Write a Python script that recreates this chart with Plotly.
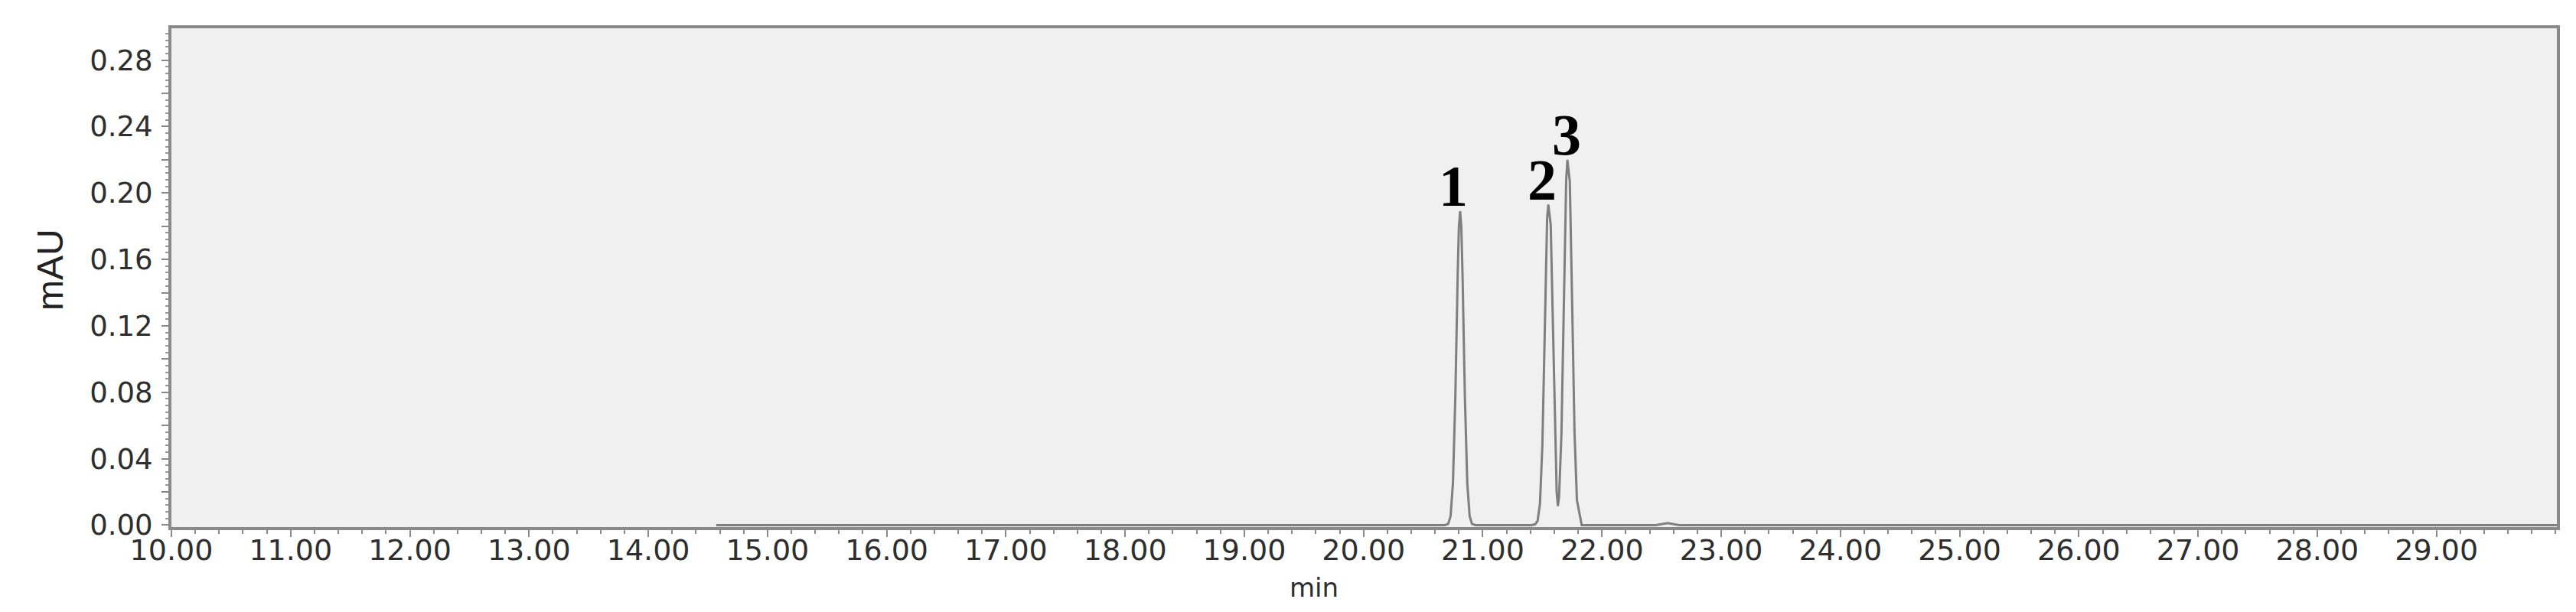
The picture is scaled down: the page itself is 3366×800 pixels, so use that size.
import plotly.graph_objects as go

# Chromatogram trace (time in min, signal in mAU)
time_min = [14.57, 18.00, 20.60, 20.68, 20.71, 20.73, 20.75, 20.77, 20.79, 20.80, 20.81,
            20.82, 20.83, 20.85, 20.87, 20.89, 20.91, 20.94, 21.30, 21.41, 21.44,
            21.46, 21.48, 21.50, 21.52, 21.53, 21.54, 21.55, 21.57, 21.59, 21.61,
            21.62, 21.63, 21.64, 21.66, 21.68, 21.69, 21.70, 21.71, 21.73, 21.75,
            21.77, 21.79, 21.83, 22.45, 22.55, 22.65, 26.00, 30.02]
signal_mau = [0.000, 0.000, 0.000, 0.000, 0.0007, 0.0054, 0.0254, 0.0775, 0.152, 0.180, 0.189,
              0.180, 0.152, 0.0775, 0.0254, 0.0054, 0.0007, 0.000, 0.000, 0.000, 0.0005,
              0.0025, 0.013, 0.048, 0.116, 0.155, 0.185, 0.193, 0.181, 0.116, 0.048,
              0.020, 0.0115, 0.017, 0.055, 0.133, 0.175, 0.208, 0.220, 0.207, 0.133,
              0.055, 0.015, 0.000, 0.000, 0.0012, 0.000, 0.000, 0.000]

peak_labels = ["1", "2", "3"]
peak_times = [20.80, 21.54, 21.71]
peak_heights = [0.189, 0.193, 0.220]

x_tick_vals = [10, 11, 12, 13, 14, 15, 16, 17, 18, 19, 20, 21, 22, 23, 24, 25, 26, 27, 28, 29]
x_tick_text = ["10.00", "11.00", "12.00", "13.00", "14.00", "15.00", "16.00", "17.00", "18.00",
               "19.00", "20.00", "21.00", "22.00", "23.00", "24.00", "25.00", "26.00", "27.00",
               "28.00", "29.00"]
y_tick_vals = [0.00, 0.02, 0.04, 0.06, 0.08, 0.10, 0.12, 0.14, 0.16, 0.18, 0.20, 0.22,
               0.24, 0.26, 0.28]
y_tick_text = ["0.00", "", "0.04", "", "0.08", "", "0.12", "", "0.16", "", "0.20", "",
               "0.24", "", "0.28"]

AX = "#8a8a8a"
TXT = "#2e2e2e"

fig = go.Figure()
fig.add_trace(go.Scatter(x=time_min, y=signal_mau, mode="lines",
                         line=dict(color="#7f7f7f", width=3), showlegend=False,
                         hoverinfo="skip"))

for lab, t, h in zip(peak_labels, peak_times, peak_heights):
    fig.add_annotation(x=t, y=h, text=lab, showarrow=False, yanchor="bottom",
                       xshift=-1 if lab == "3" else -7, yshift=-11,
                       font=dict(family="Liberation Serif", size=76, color="black",
                                 weight="bold"))

# axis titles placed as in the reference
fig.add_annotation(xref="paper", yref="paper", x=0.479, y=-0.121, text="min",
                   showarrow=False, xanchor="center", yanchor="middle",
                   font=dict(family="DejaVu Sans", size=34, color=TXT))
fig.add_annotation(xref="paper", yref="paper", x=-0.0507, y=0.517, text="mAU",
                   showarrow=False, xanchor="center", yanchor="middle", textangle=-90,
                   font=dict(family="Liberation Sans", size=48, color="#222222"))

fig.update_layout(
    width=3366, height=800,
    margin=dict(l=216, r=33, t=29, b=119),
    paper_bgcolor="white", plot_bgcolor="#f0f0f0",
    font=dict(family="DejaVu Sans", color=TXT),
)
fig.update_xaxes(range=[10, 30.01], tickvals=x_tick_vals, ticktext=x_tick_text,
                 tickfont=dict(family="DejaVu Sans", size=38, color=TXT),
                 ticklabelstandoff=-16,
                 showgrid=False, zeroline=False, showline=True, linecolor=AX,
                 linewidth=4, mirror=True, ticks="outside", ticklen=9, tickwidth=2,
                 tickcolor=AX,
                 minor=dict(dtick=0.2, ticks="outside", ticklen=5, tickwidth=2,
                            tickcolor=AX, showgrid=False))
fig.update_yaxes(range=[-0.0012, 0.2992], tickvals=y_tick_vals, ticktext=y_tick_text,
                 tickfont=dict(family="DejaVu Sans", size=37, color=TXT),
                 ticklabelstandoff=4,
                 showgrid=False, zeroline=False, showline=True, linecolor=AX,
                 linewidth=4, mirror=True, ticks="outside", ticklen=9, tickwidth=2,
                 tickcolor=AX,
                 minor=dict(dtick=0.004, ticks="outside", ticklen=4, tickwidth=2,
                            tickcolor="#9a9a9a", showgrid=False))

fig.write_html("out.html")
